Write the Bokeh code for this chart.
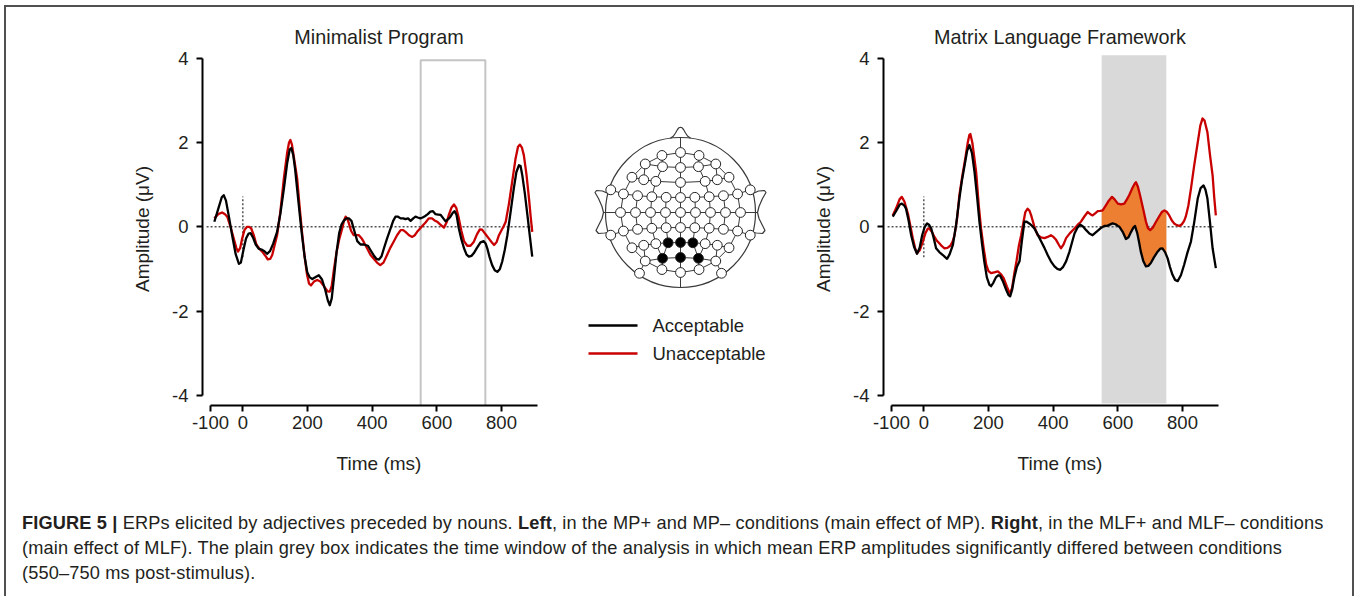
import numpy as np
from bokeh.plotting import figure
from bokeh.models import Range1d, FixedTicker, Div, Spacer
from bokeh.layouts import row, column
from bokeh.embed import file_html
from bokeh.resources import INLINE
from bokeh.core.properties import value

# ---------------- data ----------------
series_names = ["Acceptable", "Unacceptable"]
series_colors = ["#000000", "#c80000"]
panel_titles = ["Minimalist Program", "Matrix Language Framework"]
x_label = "Time (ms)"
y_label = "Amplitude (μV)"
x_ticks = [-100, 0, 200, 400, 600, 800]
y_ticks = [-4, -2, 0, 2, 4]
analysis_window = [550, 750]
baseline_span = [-112, 900]
onset_span = [-0.72, 0.72]

# (time in ms, amplitude in µV)
mp_acceptable = [(-88,0.12),(-75,0.45),(-65,0.70),(-59,0.75),(-52,0.62),(-42,0.20),(-33,-0.20),(-22,-0.65),
    (-12,-0.88),(-6,-0.85),(2,-0.55),(10,-0.28),(18,-0.16),(24,-0.15),(32,-0.26),(40,-0.42),(49,-0.52),
    (58,-0.54),(67,-0.58),(75,-0.64),(84,-0.58),(94,-0.40),(106,-0.12),(116,0.30),(127,0.90),(137,1.50),
    (145,1.83),(150,1.87),(156,1.70),(162,1.35),(168,0.90),(176,0.30),(183,-0.20),(191,-0.70),(199,-1.07),
    (207,-1.20),(215,-1.24),(224,-1.20),(235,-1.15),(245,-1.25),(255,-1.50),(263,-1.75),(269,-1.86),
    (275,-1.70),(282,-1.20),(290,-0.60),(298,-0.15),(305,0.05),(312,0.14),(320,0.20),(328,0.20),(336,0.14),
    (345,-0.10),(354,-0.34),(364,-0.42),(374,-0.42),(387,-0.45),(397,-0.58),(405,-0.68),(413,-0.76),
    (421,-0.78),(429,-0.70),(436,-0.52),(446,-0.28),(457,-0.04),(465,0.14),(472,0.24),(480,0.24),(488,0.20),
    (496,0.20),(503,0.18),(511,0.20),(519,0.14),(527,0.20),(534,0.24),(541,0.22),(549,0.20),(556,0.22),
    (563,0.25),(572,0.30),(580,0.36),(588,0.37),(596,0.30),(604,0.29),(612,0.28),(620,0.20),(627,0.13),
    (635,0.18),(642,0.24),(649,0.33),(655,0.37),(661,0.28),(668,-0.04),(676,-0.30),(684,-0.51),(692,-0.66),
    (699,-0.71),(707,-0.69),(714,-0.63),(724,-0.50),(735,-0.37),(745,-0.34),(751,-0.40),(756,-0.51),
    (763,-0.72),(771,-0.91),(779,-1.03),(787,-1.07),(795,-1.00),(802,-0.83),(810,-0.55),(818,-0.20),
    (828,0.35),(838,0.91),(846,1.30),(854,1.46),(859,1.44),(864,1.23),(872,0.80),(880,0.28),(888,-0.25),
    (895,-0.71)]
mp_unacceptable = [(-88,0.20),(-76,0.30),(-64,0.34),(-55,0.30),(-48,0.24),(-38,0.00),(-28,-0.28),(-20,-0.50),
    (-15,-0.59),(-8,-0.50),(-2,-0.28),(5,-0.08),(13,0.00),(20,0.00),(26,-0.04),(34,-0.20),(42,-0.42),
    (51,-0.52),(60,-0.59),(69,-0.68),(77,-0.77),(85,-0.76),(91,-0.67),(98,-0.45),(106,-0.20),(116,0.35),
    (127,1.15),(137,1.75),(143,2.00),(147,2.06),(152,1.95),(160,1.55),(168,1.15),(176,0.45),(183,-0.12),
    (191,-0.70),(199,-1.15),(205,-1.35),(211,-1.39),(220,-1.30),(230,-1.26),(240,-1.30),(250,-1.40),
    (262,-1.53),(269,-1.54),(275,-1.40),(282,-1.00),(290,-0.60),(298,-0.30),(307,-0.05),(313,0.15),
    (318,0.24),(323,0.20),(328,0.08),(335,-0.10),(343,-0.20),(351,-0.20),(359,-0.20),(367,-0.27),
    (374,-0.36),(385,-0.52),(395,-0.67),(405,-0.76),(415,-0.85),(425,-0.91),(435,-0.85),(446,-0.67),
    (456,-0.50),(466,-0.36),(477,-0.20),(488,-0.08),(496,-0.08),(503,-0.12),(514,-0.20),(524,-0.24),
    (532,-0.20),(539,-0.12),(547,-0.05),(555,0.02),(565,0.10),(575,0.20),(585,0.20),(593,0.15),(601,0.12),
    (610,0.06),(622,-0.02),(630,0.10),(637,0.28),(645,0.45),(653,0.53),(660,0.45),(668,0.20),(676,-0.10),
    (684,-0.34),(694,-0.45),(704,-0.45),(714,-0.36),(724,-0.18),(733,-0.06),(740,-0.07),(745,-0.12),
    (753,-0.20),(761,-0.28),(769,-0.36),(777,-0.43),(785,-0.36),(792,-0.20),(800,-0.08),(806,0.00),
    (813,0.12),(823,0.55),(833,1.07),(843,1.60),(851,1.90),(857,1.95),(863,1.88),(869,1.70),(877,1.25),
    (885,0.67),(890,0.25),(895,-0.12)]
mlf_acceptable = [(-96,0.24),(-85,0.38),(-75,0.52),(-68,0.55),(-60,0.50),(-55,0.43),(-47,0.15),(-39,-0.20),
    (-30,-0.48),(-21,-0.64),(-13,-0.50),(-5,-0.20),(3,0.00),(10,0.08),(16,0.05),(23,-0.04),(30,-0.25),
    (38,-0.51),(48,-0.60),(59,-0.67),(66,-0.72),(72,-0.76),(80,-0.65),(90,-0.43),(100,0.05),(110,0.67),
    (118,1.10),(126,1.45),(134,1.80),(141,1.94),(149,1.75),(157,1.29),(165,0.70),(172,0.12),(180,-0.40),
    (187,-0.82),(195,-1.20),(203,-1.38),(208,-1.41),(215,-1.33),(223,-1.20),(230,-1.15),(236,-1.16),
    (245,-1.30),(255,-1.50),(262,-1.62),(267,-1.65),(273,-1.50),(280,-1.20),(288,-0.95),(296,-0.82),
    (303,-0.35),(311,0.12),(318,0.12),(326,0.08),(334,0.03),(342,-0.04),(352,-0.18),(363,-0.35),(373,-0.50),
    (383,-0.67),(393,-0.82),(404,-0.94),(413,-1.00),(422,-1.02),(431,-0.95),(440,-0.82),(450,-0.60),
    (458,-0.38),(466,-0.16),(475,-0.02),(484,0.05),(493,0.00),(502,-0.08),(512,-0.16),(522,-0.20),
    (531,-0.14),(540,-0.08),(549,-0.02),(558,0.02),(566,0.02),(575,0.05),(584,0.08),(593,0.06),(600,0.02),
    (605,0.00),(615,-0.12),(625,-0.29),(633,-0.25),(641,-0.12),(648,-0.02),(653,0.02),(660,-0.15),
    (666,-0.38),(671,-0.59),(679,-0.82),(687,-0.94),(694,-0.93),(702,-0.86),(712,-0.72),(723,-0.59),
    (731,-0.52),(738,-0.51),(746,-0.60),(754,-0.75),(761,-0.95),(769,-1.14),(777,-1.26),(785,-1.29),
    (795,-1.15),(805,-0.90),(815,-0.62),(826,-0.35),(836,0.10),(847,0.67),(856,0.92),(865,0.98),(871,0.88),
    (877,0.67),(885,0.10),(893,-0.51),(903,-0.98)]
mlf_unacceptable = [(-96,0.27),(-85,0.45),(-75,0.65),(-68,0.71),(-60,0.60),(-49,0.31),(-41,0.00),(-34,-0.27),
    (-27,-0.50),(-21,-0.63),(-12,-0.55),(-3,-0.35),(5,-0.15),(12,-0.05),(17,-0.04),(25,-0.12),(33,-0.24),
    (40,-0.33),(48,-0.39),(56,-0.46),(64,-0.51),(73,-0.50),(82,-0.45),(89,-0.35),(95,-0.20),(103,0.20),
    (110,0.75),(119,1.20),(128,1.61),(136,2.00),(141,2.18),(144,2.20),(150,2.00),(156,1.65),(162,1.29),
    (170,0.50),(177,-0.04),(185,-0.50),(193,-0.90),(200,-1.05),(208,-1.10),(218,-1.08),(229,-1.06),
    (238,-1.12),(247,-1.22),(257,-1.42),(264,-1.55),(267,-1.57),(273,-1.45),(280,-1.10),(287,-0.80),
    (294,-0.45),(301,-0.20),(308,0.10),(314,0.35),(321,0.43),(327,0.38),(332,0.27),(342,0.00),(352,-0.20),
    (362,-0.25),(373,-0.27),(383,-0.24),(393,-0.20),(401,-0.24),(409,-0.31),(417,-0.42),(424,-0.51),
    (432,-0.42),(440,-0.27),(452,-0.15),(466,-0.04),(476,0.05),(486,0.12),(497,0.25),(507,0.35),(515,0.30),
    (522,0.27),(530,0.32),(538,0.37),(546,0.38),(553,0.39),(558,0.45),(563,0.51),(572,0.62),(582,0.71),
    (590,0.65),(600,0.55),(610,0.53),(620,0.55),(628,0.65),(635,0.75),(645,0.92),(652,1.02),(656,1.06),
    (662,0.95),(667,0.80),(671,0.67),(679,0.40),(687,0.12),(693,-0.03),(700,-0.08),(708,-0.02),(718,0.12),
    (728,0.25),(736,0.35),(744,0.39),(752,0.35),(759,0.27),(767,0.15),(774,0.08),(782,0.04),(790,0.02),
    (798,0.06),(805,0.14),(810,0.24),(818,0.50),(826,0.90),(836,1.45),(847,2.00),(855,2.40),(862,2.57),
    (868,2.52),(877,2.24),(885,1.70),(893,1.22),(898,0.70),(903,0.27)]

# electrode montage: (labels left->right, midline polar angle (+front/-back), left end azimuth)
montage_rows = [
    (["Fp1", "Fpz", "Fp2"], 72, 108),
    (["AF7", "AF3", "AFz", "AF4", "AF8"], 54, 126),
    (["F7", "F5", "F3", "F1", "Fz", "F2", "F4", "F6", "F8"], 36, 144),
    (["FT7", "FC5", "FC3", "FC1", "FCz", "FC2", "FC4", "FC6", "FT8"], 18, 162),
    (["T7", "C5", "C3", "C1", "Cz", "C2", "C4", "C6", "T8"], 0, 180),
    (["TP7", "CP5", "CP3", "CP1", "CPz", "CP2", "CP4", "CP6", "TP8"], -18, 198),
    (["P7", "P5", "P3", "P1", "Pz", "P2", "P4", "P6", "P8"], -36, 216),
    (["PO7", "PO3", "POz", "PO4", "PO8"], -54, 234),
    (["O1", "Oz", "O2"], -72, 252),
]
montage_omit = ["F1", "F2"]
montage_extra = [("FT9", 88, 162), ("FT10", 88, 18), ("TP9", 88, 198), ("TP10", 88, -18),
                 ("PO9", 88, 236), ("PO10", 88, -56)]
ring_order = ["Fpz", "Fp2", "AF8", "F8", "FT8", "T8", "TP8", "P8", "PO8", "O2", "Oz", "O1",
              "PO7", "P7", "TP7", "T7", "FT7", "F7", "AF7", "Fp1", "Fpz"]
roi_electrodes = ["P1", "Pz", "P2", "PO3", "POz", "PO4"]

caption_lines = [
    "<b>FIGURE 5 |</b> ERPs elicited by adjectives preceded by nouns. <b>Left</b>, in the MP+ and MP– "
    "conditions (main effect of MP). <b>Right</b>, in the MLF+ and MLF– conditions",
    "(main effect of MLF). The plain grey box indicates the time window of the analysis in which mean ERP "
    "amplitudes significantly differed between conditions",
    "(550–750 ms post-stimulus).",
]

# ---------------- styling ----------------
FONT = "Liberation Sans"
TXT = "#231f20"
X_RANGE = (-124.6, 966.9)
Y_RANGE = (-4.24, 4.135)
FIG_H = 473
B_TOP = 45
B_BOTTOM = 75


def split(pairs):
    return [p[0] for p in pairs], [p[1] for p in pairs]


def erp_panel(title, acc, unacc, width, b_left, b_right, shaded):
    p = figure(width=width, height=FIG_H, x_range=Range1d(*X_RANGE), y_range=Range1d(*Y_RANGE),
               title=title, toolbar_location=None, output_backend="svg",
               min_border_left=b_left, min_border_right=b_right, min_border_top=B_TOP,
               min_border_bottom=B_BOTTOM, outline_line_color=None)
    p.xgrid.visible = False
    p.ygrid.visible = False
    p.title.align = "center"
    p.title.text_font = FONT
    p.title.text_font_size = "19.8px"
    p.title.text_font_style = "normal"
    p.title.text_color = TXT

    for ax in (p.xaxis[0], p.yaxis[0]):
        ax.axis_line_width = 2
        ax.axis_line_color = "#000000"
        ax.major_tick_line_width = 2
        ax.major_tick_line_color = "#000000"
        ax.major_tick_in = 0
        ax.major_tick_out = 6
        ax.minor_tick_line_color = None
        ax.major_label_text_font = FONT
        ax.major_label_text_font_size = "18.5px"
        ax.major_label_text_color = TXT
        ax.axis_label_text_font = FONT
        ax.axis_label_text_font_size = "19px"
        ax.axis_label_text_font_style = "normal"
        ax.axis_label_text_color = TXT
    p.xaxis.ticker = FixedTicker(ticks=x_ticks)
    p.xaxis.major_label_overrides = {t: str(t) for t in x_ticks}
    p.xaxis.bounds = (-100, 910)
    p.xaxis.axis_label = x_label
    p.xaxis.major_label_standoff = 4
    p.xaxis.axis_label_standoff = 21
    p.yaxis.ticker = FixedTicker(ticks=y_ticks)
    p.yaxis.major_label_overrides = {t: str(t) for t in y_ticks}
    p.yaxis.bounds = (-4, 4)
    p.yaxis.axis_label = y_label
    p.yaxis.major_label_standoff = 8
    p.yaxis.axis_label_standoff = 16

    t0, t1 = analysis_window
    if shaded:
        p.quad(left=[t0], right=[t1], bottom=[-4.19], top=[4.07], fill_color="#d9d9d9", line_color=None)
    else:
        p.quad(left=[t0], right=[t1], bottom=[-4.6], top=[3.95], fill_color=None,
               line_color="#c4c4c4", line_width=2)
    p.line(baseline_span, [0, 0], line_color="#555555", line_width=1.5, line_dash="2 2")
    p.line([0, 0], onset_span, line_color="#555555", line_width=1.5, line_dash="2 2")

    at, av = split(acc)
    ut, uv = split(unacc)
    if shaded:
        grid = sorted(set([t for t in at + ut if t0 <= t <= t1] + [t0, t1]))
        lo = np.interp(grid, at, av)
        hi = np.interp(grid, ut, uv)
        p.varea(x=grid, y1=lo, y2=hi, fill_color="#ec7f32")
    p.line(ut, uv, line_color=series_colors[1], line_width=2.3, line_join="round")
    p.line(at, av, line_color=series_colors[0], line_width=2.3, line_join="round")
    return p


# ---------------- head map ----------------
HEAD_R = 75.0


def sph(theta, phi):
    t, q = np.radians(theta), np.radians(phi)
    return np.array([np.sin(t) * np.cos(q), np.sin(t) * np.sin(q), np.cos(t)])


def arc(L, M, R, n):
    a, b = L - M, R - M
    axb = np.cross(a, b)
    C = M + np.cross(a.dot(a) * b - b.dot(b) * a, axb) / (2 * axb.dot(axb))
    e1 = L - C
    rho = np.linalg.norm(e1)
    e1 = e1 / rho
    e2 = np.cross(axb / np.linalg.norm(axb), e1)
    vm = M - C
    ang = np.arctan2(vm.dot(e2), vm.dot(e1))
    if ang < 0:
        e2 = -e2
        ang = -ang
    return [C + rho * (np.cos(ang * k / n) * e1 + np.sin(ang * k / n) * e2) for k in range(2 * n + 1)]


def proj(v):
    th = np.degrees(np.arccos(np.clip(v[2], -1, 1)))
    ph = np.arctan2(v[1], v[0])
    r = th / 90.0 * HEAD_R
    return float(r * np.cos(ph)), float(r * np.sin(ph))


pos = {}
rows_xy = []
for labels, th_mid, phi_left in montage_rows:
    M = sph(abs(th_mid), 90 if th_mid > 0 else -90)
    L = sph(72, phi_left)
    R = sph(72, 180 - phi_left)
    pts = arc(L, M, R, (len(labels) - 1) // 2)
    kept = []
    for lab, v in zip(labels, pts):
        if lab in montage_omit:
            continue
        pos[lab] = proj(v)
        kept.append(lab)
    rows_xy.append(kept)
for lab, th, ph in montage_extra:
    pos[lab] = proj(sph(th, ph))

pairs = set()
for kept in rows_xy:
    for a, b in zip(kept[:-1], kept[1:]):
        pairs.add(tuple(sorted((a, b))))
for a, b in zip(ring_order[:-1], ring_order[1:]):
    pairs.add(tuple(sorted((a, b))))
names = list(pos)
for i, a in enumerate(names):
    for b in names[i + 1:]:
        d = np.hypot(pos[a][0] - pos[b][0], pos[a][1] - pos[b][1])
        if d < 17.0:
            pairs.add(tuple(sorted((a, b))))
sx0 = [pos[a][0] for a, b in pairs]
sy0 = [pos[a][1] for a, b in pairs]
sx1 = [pos[b][0] for a, b in pairs]
sy1 = [pos[b][1] for a, b in pairs]
# midline to nose / back, T7/T8 to ears
sx0 += [0, 0, pos["T7"][0], pos["T8"][0]]
sy0 += [pos["Fpz"][1], pos["Oz"][1], 0, 0]
sx1 += [0, 0, -77, 77]
sy1 += [HEAD_R, -HEAD_R, 0, 0]

# middle panel: 1 data unit = 1 pixel, frame aligned with the neighbouring panels
mid = figure(width=230, height=FIG_H, x_range=Range1d(-115, 115), y_range=Range1d(-193, 160),
             toolbar_location=None, output_backend="svg", x_axis_type=None, y_axis_type=None,
             min_border_left=0, min_border_right=0, min_border_top=B_TOP, min_border_bottom=B_BOTTOM,
             outline_line_color=None)
mid.xgrid.visible = False
mid.ygrid.visible = False
HC = "#3a3a3a"
mid.circle(x=[0], y=[0], radius=HEAD_R, fill_color=None, line_color=HC, line_width=1.2)
nose_x = [-10, -7, -5, -3, -1.5, 0, 1.5, 3, 5, 7, 10]
nose_y = [74.3, 76.5, 79.5, 83, 84.8, 85.3, 84.8, 83, 79.5, 76.5, 74.3]
mid.line(nose_x, nose_y, line_color=HC, line_width=1.2)
ear_x = [-72.5, -78, -84, -85.5, -82, -78.5, -77, -78.5, -82, -84.5, -82, -76, -72]
ear_y = [19, 21.5, 22, 20, 14, 6, 0, -6, -13, -18, -21, -20.5, -20]
mid.line(ear_x, ear_y, line_color=HC, line_width=1.2)
mid.line([-x for x in ear_x], ear_y, line_color=HC, line_width=1.2)
mid.segment(x0=sx0, y0=sy0, x1=sx1, y1=sy1, line_color=HC, line_width=1)
ex = [pos[n][0] for n in names]
ey = [pos[n][1] for n in names]
fills = ["#000000" if n in roi_electrodes else "#ffffff" for n in names]
mid.scatter(x=ex, y=ey, size=9.8, fill_color=fills, line_color="#222222", line_width=1)

# legend
leg_y = [-113, -141]
for yy, col in zip(leg_y, series_colors):
    mid.line([-92, -43], [yy, yy], line_color=col, line_width=2.5)
mid.text(x=[-28, -28], y=leg_y, text=series_names, text_font=value(FONT), text_font_size="18.5px",
         text_baseline="middle", text_color=TXT)

# ---------------- panels ----------------
left = erp_panel(panel_titles[0], mp_acceptable, mp_unacceptable, 559, 196, 10, False)
right = erp_panel(panel_titles[1], mlf_acceptable, mlf_unacceptable, 557, 88, 116, True)

caption = Div(text=(
    "<div style=\"font-family:'Liberation Sans',Arial,sans-serif;font-size:18.2px;letter-spacing:0.15px;"
    "line-height:25px;color:#231f20;padding:31px 0 0 16px;white-space:nowrap;\">"
    + "<br>".join(caption_lines) + "</div>"),
    width=1346, height=116, margin=(0, 0, 0, 0))

BC = "#505050"
hbar = Div(text="", width=1350, height=2, margin=(0, 0, 0, 0), styles={"background-color": BC})
vbar_l = Div(text="", width=2, height=589, margin=(0, 0, 0, 0), styles={"background-color": BC})
vbar_r = Div(text="", width=2, height=589, margin=(0, 0, 0, 0), styles={"background-color": BC})

inner = column(row(left, mid, right), caption)
page = column(
    Spacer(width=1357, height=5),
    row(Spacer(width=4, height=2), hbar),
    row(Spacer(width=4, height=589), vbar_l, inner, vbar_r),
)

open("out.html", "w").write(file_html(page, INLINE))
